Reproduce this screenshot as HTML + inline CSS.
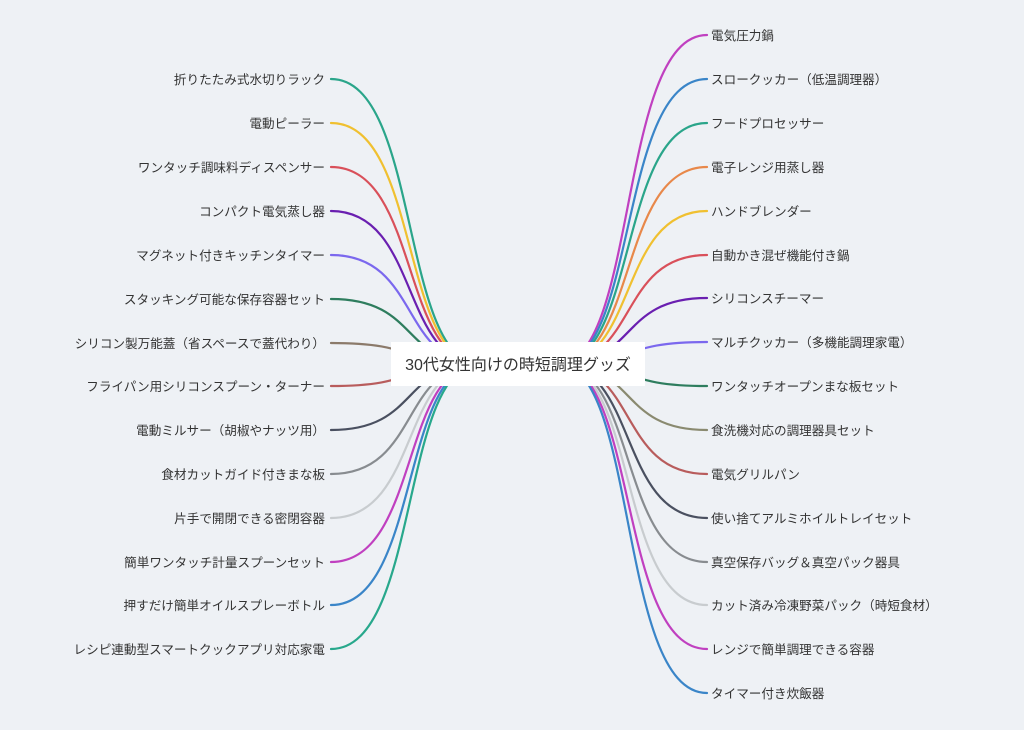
<!DOCTYPE html>
<html><head><meta charset="utf-8"><style>
html,body{margin:0;padding:0;background:#eef1f5;}
svg{display:block;}
text{font-family:"Liberation Sans","Noto Sans CJK JP",sans-serif;font-size:12.6px;fill:#333;}
path{fill:none;stroke-width:2.2;stroke-linecap:round;}
</style></head><body>
<svg width="1024" height="730" viewBox="0 0 1024 730">
<rect width="1024" height="730" fill="#eef1f5"/>
<g>
<path stroke="#2aa58a" d="M331,79 C420,79 400,364 480,364"/>
<path stroke="#f0c030" d="M331,123 C420,123 400,364 480,364"/>
<path stroke="#d9505a" d="M331,167 C420,167 400,364 480,364"/>
<path stroke="#6a1fb0" d="M331,211 C420,211 400,364 480,364"/>
<path stroke="#7b68ee" d="M331,255 C420,255 400,364 480,364"/>
<path stroke="#2e7d5e" d="M331,299 C420,299 400,364 480,364"/>
<path stroke="#8b7a6a" d="M331,343 C420,343 400,364 480,364"/>
<path stroke="#b85c5c" d="M331,386 C420,386 400,364 480,364"/>
<path stroke="#4a5060" d="M331,430 C420,430 400,364 480,364"/>
<path stroke="#888c90" d="M331,474 C420,474 400,364 480,364"/>
<path stroke="#c8cccf" d="M331,518 C420,518 400,364 480,364"/>
<path stroke="#c040c0" d="M331,562 C420,562 400,364 480,364"/>
<path stroke="#3a85c8" d="M331,605 C420,605 400,364 480,364"/>
<path stroke="#28a88c" d="M331,649 C420,649 400,364 480,364"/>

<path stroke="#c040c0" d="M707,35 C618,35 638,364 558,364"/>
<path stroke="#3a85c8" d="M707,79 C618,79 638,364 558,364"/>
<path stroke="#2aa58a" d="M707,123 C618,123 638,364 558,364"/>
<path stroke="#e8884a" d="M707,167 C618,167 638,364 558,364"/>
<path stroke="#f0c030" d="M707,211 C618,211 638,364 558,364"/>
<path stroke="#d9505a" d="M707,255 C618,255 638,364 558,364"/>
<path stroke="#6a1fb0" d="M707,298 C618,298 638,364 558,364"/>
<path stroke="#7b68ee" d="M707,342 C618,342 638,364 558,364"/>
<path stroke="#2e7d5e" d="M707,386 C618,386 638,364 558,364"/>
<path stroke="#8a8a70" d="M707,430 C618,430 638,364 558,364"/>
<path stroke="#b85c5c" d="M707,474 C618,474 638,364 558,364"/>
<path stroke="#4a5060" d="M707,518 C618,518 638,364 558,364"/>
<path stroke="#888c90" d="M707,562 C618,562 638,364 558,364"/>
<path stroke="#c8cccf" d="M707,605 C618,605 638,364 558,364"/>
<path stroke="#c040c0" d="M707,649 C618,649 638,364 558,364"/>
<path stroke="#3a85c8" d="M707,693 C618,693 638,364 558,364"/>
</g>
<rect x="391" y="342" width="254" height="44" fill="#ffffff"/>
<text x="518" y="370" text-anchor="middle" style="font-size:16px">30代女性向けの時短調理グッズ</text>
<g text-anchor="end">
<text x="325" y="84">折りたたみ式水切りラック</text>
<text x="325" y="128">電動ピーラー</text>
<text x="325" y="172">ワンタッチ調味料ディスペンサー</text>
<text x="325" y="216">コンパクト電気蒸し器</text>
<text x="325" y="260">マグネット付きキッチンタイマー</text>
<text x="325" y="304">スタッキング可能な保存容器セット</text>
<text x="325" y="348">シリコン製万能蓋（省スペースで蓋代わり）</text>
<text x="325" y="391">フライパン用シリコンスプーン・ターナー</text>
<text x="325" y="435">電動ミルサー（胡椒やナッツ用）</text>
<text x="325" y="479">食材カットガイド付きまな板</text>
<text x="325" y="523">片手で開閉できる密閉容器</text>
<text x="325" y="567">簡単ワンタッチ計量スプーンセット</text>
<text x="325" y="610">押すだけ簡単オイルスプレーボトル</text>
<text x="325" y="654">レシピ連動型スマートクックアプリ対応家電</text>
</g>
<g>
<text x="711" y="40">電気圧力鍋</text>
<text x="711" y="84">スロークッカー（低温調理器）</text>
<text x="711" y="128">フードプロセッサー</text>
<text x="711" y="172">電子レンジ用蒸し器</text>
<text x="711" y="216">ハンドブレンダー</text>
<text x="711" y="260">自動かき混ぜ機能付き鍋</text>
<text x="711" y="303">シリコンスチーマー</text>
<text x="711" y="347">マルチクッカー（多機能調理家電）</text>
<text x="711" y="391">ワンタッチオープンまな板セット</text>
<text x="711" y="435">食洗機対応の調理器具セット</text>
<text x="711" y="479">電気グリルパン</text>
<text x="711" y="523">使い捨てアルミホイルトレイセット</text>
<text x="711" y="567">真空保存バッグ＆真空パック器具</text>
<text x="711" y="610">カット済み冷凍野菜パック（時短食材）</text>
<text x="711" y="654">レンジで簡単調理できる容器</text>
<text x="711" y="698">タイマー付き炊飯器</text>
</g>
</svg>
</body></html>
